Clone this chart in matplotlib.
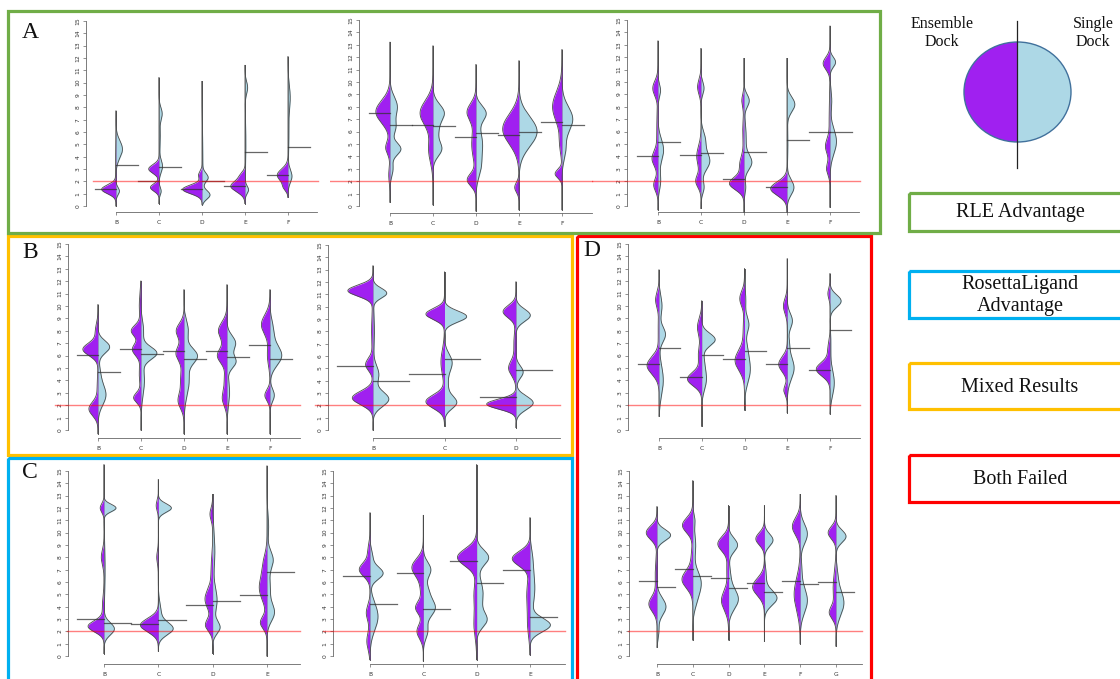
import numpy as np
import matplotlib
matplotlib.use('Agg')
import matplotlib.pyplot as plt
from matplotlib.patches import Rectangle, Polygon, Ellipse

W, H = 1120, 679
PURPLE = '#A020F0'
LBLUE = '#ADD8E6'
EDGE = '#4a4a4a'

# ---------------- DATA ----------------
# modes: (centre, spread, half-width in category units) of each half-violin
A1_cats = ['B', 'C', 'D', 'E', 'F']
A1_range = [(0.0, 7.7), (0.2, 10.4), (0.1, 10.1), (0.2, 11.4), (0.7, 12.1)]
A1_ens_modes = [[(1.35, 0.35, 0.33), (3.5, 1.5, 0.01)],
                [(1.5, 0.3, 0.2), (3.0, 0.35, 0.24)],
                [(1.35, 0.35, 0.45), (2.5, 0.3, 0.08)],
                [(1.6, 0.45, 0.33), (2.5, 0.3, 0.08)],
                [(2.5, 0.5, 0.25), (1.5, 0.3, 0.08)]]
A1_sgl_modes = [[(4.6, 0.7, 0.15), (1.2, 0.3, 0.08)],
                [(3.2, 0.5, 0.08), (1.2, 0.3, 0.05), (7.5, 0.5, 0.07), (5.5, 1.0, 0.03)],
                [(0.9, 0.35, 0.18), (2.3, 0.35, 0.13), (4.0, 2.0, 0.02)],
                [(1.3, 0.3, 0.08), (9.6, 0.5, 0.06), (5.0, 2.0, 0.02)],
                [(2.4, 0.5, 0.09), (8.8, 1.0, 0.05), (5.5, 1.5, 0.02)]]
A1_ens_mean = [1.35, 2.05, 1.35, 1.6, 2.55]
A1_sgl_mean = [3.35, 3.15, 2.05, 4.4, 4.75]

A2_cats = ['B', 'C', 'D', 'E', 'F']
A2_range = [(0.3, 13.2), (0.1, 12.9), (-0.4, 11.4), (-0.3, 11.7), (-0.3, 12.6)]
A2_ens_modes = [[(7.6, 0.9, 0.33), (4.7, 0.5, 0.1), (2.5, 0.6, 0.03)],
                [(7.5, 1.0, 0.3), (4.5, 1.0, 0.1)],
                [(7.6, 0.7, 0.2), (2.1, 0.5, 0.2), (5.0, 1.2, 0.1)],
                [(6.2, 1.2, 0.38), (1.5, 0.4, 0.1)],
                [(8.0, 1.2, 0.22), (2.6, 0.35, 0.16), (5.0, 0.8, 0.05)]]
A2_sgl_modes = [[(8.0, 0.8, 0.17), (6.3, 0.6, 0.12), (4.6, 0.5, 0.25), (3.0, 0.6, 0.07)],
                [(7.5, 0.7, 0.26), (4.6, 0.6, 0.2), (6.0, 0.6, 0.1)],
                [(7.5, 0.6, 0.22), (5.0, 1.2, 0.15), (3.0, 0.8, 0.08)],
                [(6.0, 1.2, 0.42)],
                [(7.0, 1.0, 0.25), (4.5, 0.8, 0.08)]]
A2_ens_mean = [7.5, 6.5, 5.6, 5.75, 6.75]
A2_sgl_mean = [6.5, 6.45, 5.85, 5.95, 6.5]

A3_cats = ['B', 'C', 'D', 'E', 'F']
A3_range = [(-0.3, 13.3), (-0.2, 12.7), (-0.5, 11.9), (-0.5, 11.9), (-0.1, 14.5)]
A3_ens_modes = [[(9.5, 0.6, 0.12), (3.8, 0.6, 0.13), (1.7, 0.5, 0.1), (6.0, 1.5, 0.03)],
                [(9.6, 0.6, 0.08), (4.0, 0.8, 0.1), (2.0, 0.5, 0.12)],
                [(1.8, 0.5, 0.33), (3.3, 0.7, 0.1), (8.5, 0.5, 0.05), (6.0, 1.0, 0.03)],
                [(1.4, 0.55, 0.38)],
                [(11.5, 0.5, 0.16), (4.8, 0.6, 0.1), (3.0, 0.5, 0.08), (7.0, 1.5, 0.02)]]
A3_sgl_modes = [[(4.5, 0.9, 0.13), (9.3, 0.5, 0.06), (2.0, 0.7, 0.06)],
                [(3.6, 0.7, 0.2), (5.3, 0.7, 0.1), (9.5, 0.5, 0.07), (1.5, 0.5, 0.07)],
                [(8.5, 0.5, 0.12), (3.5, 0.6, 0.17), (5.5, 1.2, 0.05), (1.5, 0.5, 0.04)],
                [(8.2, 0.6, 0.18), (1.5, 0.6, 0.16), (5.0, 1.5, 0.02)],
                [(11.6, 0.4, 0.13), (5.2, 1.0, 0.15), (8.5, 0.8, 0.04)]]
A3_ens_mean = [4.05, 4.1, 2.2, 1.5, 5.95]
A3_sgl_mean = [5.2, 4.25, 4.35, 5.3, 6.0]

B1_cats = ['B', 'C', 'D', 'E', 'F']
B1_range = [(-0.3, 10.1), (0.0, 12.0), (-0.3, 11.3), (-0.3, 11.7), (-0.3, 11.3)]
B1_ens_modes = [[(6.5, 0.5, 0.35), (1.7, 0.55, 0.21), (8.0, 0.6, 0.06), (3.5, 0.8, 0.02)],
                [(8.0, 0.45, 0.22), (6.5, 0.5, 0.2), (2.6, 0.4, 0.17), (10.0, 1.0, 0.04), (4.5, 0.8, 0.04)],
                [(8.0, 0.6, 0.18), (6.2, 0.6, 0.18), (2.3, 0.6, 0.12), (4.0, 1.0, 0.08)],
                [(8.0, 0.7, 0.2), (6.0, 0.6, 0.22), (2.5, 0.6, 0.1), (4.0, 0.8, 0.06)],
                [(8.5, 0.8, 0.2), (2.8, 0.45, 0.12), (6.0, 0.8, 0.06)]]
B1_sgl_modes = [[(6.7, 0.5, 0.27), (2.8, 0.8, 0.18), (4.5, 0.8, 0.05)],
                [(6.2, 0.5, 0.35), (4.0, 1.2, 0.08), (8.0, 0.8, 0.06)],
                [(6.0, 0.6, 0.28), (4.0, 1.2, 0.12), (8.0, 0.8, 0.1)],
                [(7.0, 0.6, 0.2), (5.5, 0.5, 0.2), (3.0, 1.0, 0.06)],
                [(6.0, 0.8, 0.27), (2.8, 0.5, 0.1), (8.0, 0.8, 0.08)]]
B1_ens_mean = [6.05, 6.55, 6.4, 6.35, 6.85]
B1_sgl_mean = [4.65, 6.1, 5.75, 5.9, 5.75]

B2_cats = ['B', 'C', 'D']
B2_range = [(0.0, 13.3), (0.3, 12.8), (0.2, 12.0)]
B2_ens_modes = [[(11.3, 0.45, 0.35), (2.6, 0.55, 0.29), (5.3, 0.5, 0.1), (8.0, 1.5, 0.02)],
                [(9.4, 0.45, 0.26), (2.3, 0.55, 0.26), (5.5, 1.0, 0.05)],
                [(9.6, 0.5, 0.18), (2.1, 0.4, 0.41), (5.0, 0.6, 0.1), (7.0, 1.0, 0.03)]]
B2_sgl_modes = [[(11.1, 0.4, 0.19), (2.5, 0.6, 0.22), (4.5, 0.7, 0.08), (8.0, 1.5, 0.02)],
                [(9.2, 0.45, 0.31), (2.2, 0.5, 0.15), (5.5, 0.7, 0.1), (3.5, 1.0, 0.05)],
                [(9.3, 0.5, 0.2), (2.2, 0.55, 0.24), (4.7, 0.5, 0.1)]]
B2_ens_mean = [5.15, 4.55, 2.65]
B2_sgl_mean = [4.0, 5.75, 4.9]

C1_cats = ['B', 'C', 'D', 'E']
C1_range = [(0.2, 15.5), (0.4, 14.3), (0.2, 13.1), (0.0, 15.4)]
C1_ens_modes = [[(2.4, 0.45, 0.29), (12.0, 0.35, 0.07), (8.0, 0.6, 0.05), (4.0, 0.8, 0.03)],
                [(2.5, 0.55, 0.33), (12.2, 0.4, 0.04), (8.0, 0.5, 0.03)],
                [(4.6, 0.8, 0.14), (2.5, 0.5, 0.13), (11.5, 0.5, 0.05), (7.0, 1.0, 0.03)],
                [(5.5, 1.0, 0.14), (2.7, 0.5, 0.12), (7.5, 0.8, 0.06)]]
C1_sgl_modes = [[(12.0, 0.3, 0.22), (2.2, 0.5, 0.19), (7.0, 2.0, 0.02)],
                [(12.0, 0.35, 0.24), (2.2, 0.5, 0.26), (3.5, 0.8, 0.05)],
                [(2.3, 0.5, 0.13), (4.5, 1.0, 0.08), (8.5, 1.5, 0.04)],
                [(7.8, 0.7, 0.11), (3.5, 0.7, 0.13), (5.5, 1.0, 0.06), (10.5, 1.0, 0.03)]]
C1_ens_mean = [3.0, 2.6, 4.15, 4.95]
C1_sgl_mean = [2.7, 2.9, 4.5, 6.8]

C2_cats = ['B', 'C', 'D', 'E']
C2_range = [(-0.3, 11.6), (-0.4, 11.4), (-0.3, 15.5), (0.1, 11.2)]
C2_ens_modes = [[(7.0, 0.55, 0.2), (3.5, 0.6, 0.07), (1.2, 0.7, 0.06), (8.5, 0.6, 0.04)],
                [(7.2, 0.7, 0.21), (3.9, 0.5, 0.14), (2.0, 0.6, 0.12), (5.5, 0.8, 0.05)],
                [(8.0, 0.7, 0.36), (2.5, 1.0, 0.05), (5.0, 1.0, 0.05)],
                [(7.9, 0.6, 0.33), (5.0, 1.2, 0.06), (2.5, 1.0, 0.04)]]
C2_sgl_modes = [[(6.7, 0.5, 0.24), (3.2, 1.1, 0.15), (8.0, 0.6, 0.05)],
                [(7.0, 0.6, 0.14), (3.9, 0.7, 0.22), (2.0, 0.6, 0.08), (5.3, 0.6, 0.08)],
                [(8.0, 0.6, 0.22), (2.9, 0.6, 0.17), (5.0, 1.2, 0.12)],
                [(2.5, 0.55, 0.37), (5.5, 1.5, 0.09), (8.0, 0.8, 0.03)]]
C2_ens_mean = [6.45, 6.7, 7.7, 7.0]
C2_sgl_mean = [4.25, 3.8, 5.95, 3.15]

D1_cats = ['B', 'C', 'D', 'E', 'F']
D1_range = [(1.1, 12.9), (0.3, 10.4), (1.6, 13.0), (1.4, 13.8), (1.3, 12.6)]
D1_ens_modes = [[(5.2, 0.7, 0.28), (10.5, 0.6, 0.08), (8.0, 1.0, 0.02)],
                [(4.1, 0.55, 0.33), (8.3, 0.7, 0.1), (6.0, 0.8, 0.08)],
                [(5.6, 0.8, 0.22), (10.6, 0.6, 0.11), (8.0, 1.0, 0.03)],
                [(5.3, 0.6, 0.2), (10.0, 0.6, 0.09), (3.2, 0.4, 0.08)],
                [(4.9, 0.55, 0.32), (11.0, 0.4, 0.05), (6.5, 0.6, 0.05)]]
D1_sgl_modes = [[(7.7, 0.6, 0.15), (4.0, 1.2, 0.1), (10.0, 0.8, 0.07)],
                [(7.3, 0.5, 0.31), (4.0, 0.8, 0.1), (5.5, 0.8, 0.05)],
                [(8.5, 0.6, 0.1), (4.8, 1.0, 0.13), (10.5, 0.8, 0.03), (6.5, 0.8, 0.05)],
                [(5.0, 0.9, 0.16), (8.8, 0.6, 0.12), (7.0, 0.6, 0.04)],
                [(10.4, 0.5, 0.26), (3.8, 1.0, 0.1), (7.0, 1.0, 0.02)]]
D1_ens_mean = [5.35, 4.3, 5.75, 5.35, 4.8]
D1_sgl_mean = [6.65, 6.05, 6.4, 6.65, 8.1]

D2_cats = ['B', 'C', 'D', 'E', 'F', 'G']
D2_range = [(0.7, 12.1), (1.3, 14.2), (1.3, 12.2), (1.2, 12.2), (1.0, 13.1), (0.8, 13.0)]
D2_ens_modes = [[(10.0, 0.55, 0.3), (4.2, 0.6, 0.22), (6.5, 1.2, 0.05)],
                [(10.6, 0.6, 0.29), (6.2, 0.7, 0.3), (8.0, 0.8, 0.04)],
                [(9.1, 0.6, 0.3), (4.5, 0.8, 0.2), (7.0, 0.8, 0.05)],
                [(9.5, 0.5, 0.24), (5.6, 0.7, 0.33)],
                [(10.5, 0.7, 0.22), (5.0, 1.3, 0.17)],
                [(10.0, 0.5, 0.22), (3.5, 0.5, 0.17), (5.5, 1.2, 0.08)]]
D2_sgl_modes = [[(9.8, 0.45, 0.38), (4.0, 0.7, 0.25), (2.0, 0.6, 0.05)],
                [(6.0, 0.9, 0.22), (4.5, 0.8, 0.08), (9.0, 1.0, 0.08), (11.0, 0.5, 0.05)],
                [(9.0, 0.55, 0.25), (4.6, 0.8, 0.27), (6.5, 0.8, 0.05)],
                [(9.4, 0.5, 0.24), (4.7, 0.6, 0.35), (6.5, 0.7, 0.05)],
                [(9.9, 0.8, 0.2), (4.5, 1.0, 0.2), (7.0, 0.8, 0.04)],
                [(9.7, 0.5, 0.28), (4.3, 1.0, 0.22), (6.5, 0.8, 0.04)]]
D2_ens_mean = [6.1, 7.05, 6.3, 5.9, 6.1, 6.0]
D2_sgl_mean = [5.6, 6.45, 5.55, 5.15, 5.8, 5.15]

THRESHOLD = 2.0
YTICKS = list(range(16))

LEGEND_LABELS = ['RLE Advantage', 'RosettaLigand\nAdvantage', 'Mixed Results', 'Both Failed']

# ---------------- LAYOUT (pixel geometry) ----------------
GEOM = {
    'A1': dict(ax_x=86, c0=116, c1=288, y0=206, y15=21, xaxis_y=212, xend=317, red=(93, 318), top=14, bot=231),
    'A2': dict(ax_x=359, c0=390, c1=562, y0=206, y15=20, xaxis_y=213, xend=592, red=(330, 592), top=14, bot=231),
    'A3': dict(ax_x=627, c0=658, c1=830, y0=206, y15=20, xaxis_y=212, xend=859, red=(592, 860), top=14, bot=231),
    'B1': dict(ax_x=68, c0=98, c1=270, y0=430, y15=244, xaxis_y=438, xend=300, red=(55, 300), top=239, bot=453),
    'B2': dict(ax_x=328, c0=373, c1=516, y0=430, y15=245, xaxis_y=438, xend=560, red=(315, 560), top=239, bot=453),
    'C1': dict(ax_x=68, c0=104, c1=267, y0=656, y15=471, xaxis_y=664, xend=300, red=(67, 300), top=461, bot=679),
    'C2': dict(ax_x=333, c0=370, c1=530, y0=656, y15=471, xaxis_y=664, xend=565, red=(323, 565), top=461, bot=679),
    'D1': dict(ax_x=628, c0=659, c1=830, y0=430, y15=244, xaxis_y=438, xend=860, red=(628, 860), top=239, bot=453),
    'D2': dict(ax_x=629, c0=657, c1=836, y0=656, y15=471, xaxis_y=664, xend=862, red=(628, 862), top=461, bot=679),
}

fig = plt.figure(figsize=(W / 100, H / 100), dpi=100)
fig.patch.set_facecolor('white')


def half_width(ys, modes):
    w = np.zeros_like(ys)
    for c, sd, a in modes:
        w += a * np.exp(-0.5 * ((ys - c) / sd) ** 2)
    return w


def draw_sub(key, cats, ranges, ens_modes, sgl_modes, ens_mean, sgl_mean):
    g = GEOM[key]
    n = len(cats)
    s = (g['c1'] - g['c0']) / (n - 1)
    v = (g['y0'] - g['y15']) / 15.0
    L = min(g['red'][0], g['ax_x'] - 25)
    R = max(g['xend'], g['red'][1]) + 2
    T, B = g['top'], g['bot']
    ax = fig.add_axes([L / W, 1 - B / H, (R - L) / W, (B - T) / H])

    def px2x(p):
        return 1 + (p - g['c0']) / s

    def px2y(p):
        return (g['y0'] - p) / v

    ax.set_xlim(px2x(L), px2x(R))
    ax.set_ylim(px2y(B), px2y(T))
    ax.patch.set_visible(False)
    for sp in ['top', 'right']:
        ax.spines[sp].set_visible(False)
    for sp in ['left', 'bottom']:
        ax.spines[sp].set_color('#666666')
        ax.spines[sp].set_linewidth(0.6)
    ax.spines['left'].set_position(('data', px2x(g['ax_x'])))
    ax.spines['left'].set_bounds(0, 15)
    ax.spines['bottom'].set_position(('data', px2y(g['xaxis_y'])))
    ax.spines['bottom'].set_bounds(1, px2x(g['xend']))
    ax.set_yticks(YTICKS)
    ax.set_yticklabels([str(t) for t in YTICKS], rotation=90, va='center')
    ax.set_xticks(range(1, n + 1))
    ax.set_xticklabels(cats)
    ax.tick_params(axis='y', length=2.5, width=0.5, pad=1.5, labelsize=4.3,
                   colors='#666666', labelcolor='#333333')
    ax.tick_params(axis='x', length=2.5, width=0.5, pad=3.5, labelsize=4.3,
                   colors='#666666', labelcolor='#333333')

    for i in range(n):
        xc = i + 1
        lo, hi = ranges[i]
        ys = np.linspace(lo, hi, 400)
        we = half_width(ys, ens_modes[i])
        wsg = half_width(ys, sgl_modes[i])
        ax.plot([xc, xc], [lo, hi], color='#555555', lw=0.7, zorder=2)
        ax.fill_betweenx(ys, xc - we, xc, color=PURPLE, lw=0, zorder=3)
        ax.fill_betweenx(ys, xc, xc + wsg, color=LBLUE, lw=0, zorder=3)
        ax.plot(xc - we, ys, color=EDGE, lw=0.6, zorder=4)
        ax.plot(xc + wsg, ys, color=EDGE, lw=0.6, zorder=4)
        ax.plot([xc - 0.5, xc], [ens_mean[i]] * 2, color='#333333', lw=0.9, alpha=0.75, zorder=5)
        ax.plot([xc, xc + 0.5], [sgl_mean[i]] * 2, color='#333333', lw=0.9, alpha=0.75, zorder=5)

    ax.plot([px2x(g['red'][0]), px2x(g['red'][1])], [THRESHOLD, THRESHOLD],
            color='red', alpha=0.5, lw=1.0, zorder=6)
    return ax


draw_sub('A1', A1_cats, A1_range, A1_ens_modes, A1_sgl_modes, A1_ens_mean, A1_sgl_mean)
draw_sub('A2', A2_cats, A2_range, A2_ens_modes, A2_sgl_modes, A2_ens_mean, A2_sgl_mean)
draw_sub('A3', A3_cats, A3_range, A3_ens_modes, A3_sgl_modes, A3_ens_mean, A3_sgl_mean)
draw_sub('B1', B1_cats, B1_range, B1_ens_modes, B1_sgl_modes, B1_ens_mean, B1_sgl_mean)
draw_sub('B2', B2_cats, B2_range, B2_ens_modes, B2_sgl_modes, B2_ens_mean, B2_sgl_mean)
draw_sub('C1', C1_cats, C1_range, C1_ens_modes, C1_sgl_modes, C1_ens_mean, C1_sgl_mean)
draw_sub('C2', C2_cats, C2_range, C2_ens_modes, C2_sgl_modes, C2_ens_mean, C2_sgl_mean)
draw_sub('D1', D1_cats, D1_range, D1_ens_modes, D1_sgl_modes, D1_ens_mean, D1_sgl_mean)
draw_sub('D2', D2_cats, D2_range, D2_ens_modes, D2_sgl_modes, D2_ens_mean, D2_sgl_mean)

# ---------------- overlay: frames, letters, legend ----------------
ov = fig.add_axes([0, 0, 1, 1], zorder=20)
ov.set_xlim(0, W)
ov.set_ylim(H, 0)
ov.axis('off')
ov.patch.set_visible(False)

GREEN, ORANGE, BLUE, RED = '#70AD47', '#FFC000', '#00B0F0', '#FF0000'
LW = 2.3
ov.add_patch(Rectangle((7.5, 236), 564, 219, fill=False, ec=ORANGE, lw=LW))
ov.add_patch(Rectangle((7.5, 458), 564, 240, fill=False, ec=BLUE, lw=LW))
ov.add_patch(Rectangle((577, 236), 294, 460, fill=False, ec=RED, lw=LW))
ov.add_patch(Rectangle((7.5, 11), 872, 222, fill=False, ec=GREEN, lw=LW))

serif = 'Liberation Serif'
for lab, (x, y) in zip(['A', 'B', 'C', 'D'], [(30, 32), (30, 252), (30, 473), (592, 251)]):
    ov.text(x, y, lab, ha='center', va='center', fontsize=17, family=serif, color='#111111')

# split-ellipse legend glyph
cx, cy, a, b = 1017.5, 92, 53.5, 50
t = np.linspace(np.pi / 2, 3 * np.pi / 2, 100)
ov.add_patch(Polygon(np.c_[cx + a * np.cos(t), cy + b * np.sin(t)], closed=True, fc=PURPLE, ec='none'))
t2 = np.linspace(-np.pi / 2, np.pi / 2, 100)
ov.add_patch(Polygon(np.c_[cx + a * np.cos(t2), cy + b * np.sin(t2)], closed=True, fc=LBLUE, ec='none'))
ov.add_patch(Ellipse((cx, cy), 2 * a, 2 * b, fill=False, ec='#41719C', lw=1.0))
ov.plot([1017, 1017], [21, 168], color='#222222', lw=0.9)
ov.text(942, 33, 'Ensemble\nDock', ha='center', va='center', fontsize=11.5, family=serif,
        linespacing=1.1, color='#111111')
ov.text(1093, 33, 'Single\nDock', ha='center', va='center', fontsize=11.5, family=serif,
        linespacing=1.1, color='#111111')

box_specs = [(193, 231, GREEN), (271, 318, BLUE), (363, 409, ORANGE), (455, 502, RED)]
for (y1, y2, col), lab in zip(box_specs, LEGEND_LABELS):
    ov.add_patch(Rectangle((909, y1), 230, y2 - y1, fill=False, ec=col, lw=LW))
    ov.text(1020, (y1 + y2) / 2 + 1, lab, ha='center', va='center', fontsize=14.5,
            family=serif, linespacing=1.2, color='#111111')

fig.savefig('out.png', dpi=100, facecolor='white')
